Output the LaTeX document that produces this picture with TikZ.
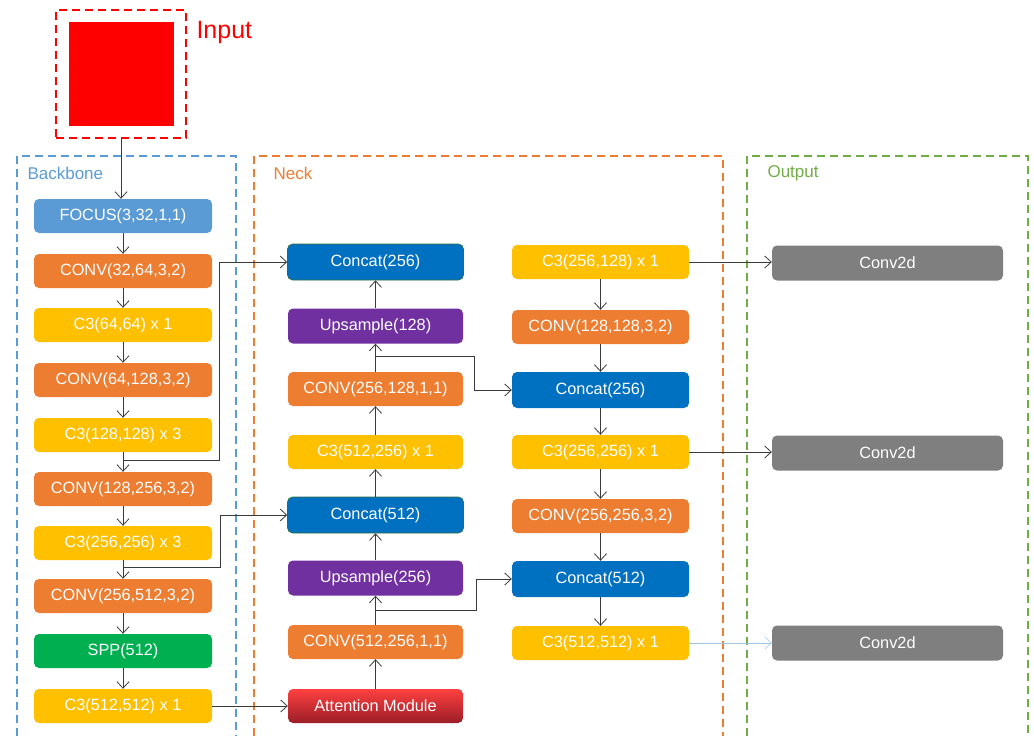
\documentclass[tikz,border=0pt]{standalone}
\usepackage{fontspec}
\setmainfont{Liberation Sans}
\usetikzlibrary{arrows.meta}
\definecolor{cblue}{HTML}{5B9BD5}
\definecolor{corange}{HTML}{ED7D31}
\definecolor{cyellow}{HTML}{FFC000}
\definecolor{cgreen}{HTML}{00B050}
\definecolor{cconcat}{HTML}{0070C0}
\definecolor{cpurple}{HTML}{7030A0}
\definecolor{cgray}{HTML}{7F7F7F}
\definecolor{cout}{HTML}{70AD47}
\definecolor{cline}{HTML}{3A3A3A}
\definecolor{clight}{HTML}{9DC3E6}
\begin{document}
\begin{tikzpicture}[x=1pt,y=-1pt,
  blk/.style={rounded corners=5pt, minimum width=#1, minimum height=34pt,
    inner sep=0pt, text=white, font=\fontsize{16.3}{19}\selectfont},
  blk/.default=178pt,
  focusbox/.style={blk, fill=cblue},
  convbox/.style={blk=#1, fill=corange},
  convbox/.default=178pt,
  c3box/.style={blk=#1, fill=cyellow},
  c3box/.default=178pt,
  sppbox/.style={blk, fill=cgreen},
  catbox/.style={blk=#1, fill=cconcat, minimum height=36pt},
  catbox/.default=176pt,
  upbox/.style={blk=175pt, fill=cpurple, minimum height=35pt},
  attbox/.style={blk=175pt, top color=red!75!white, bottom color={rgb,255:red,155;green,30;blue,40}},
  outbox/.style={blk=231pt, fill=cgray, minimum height=35pt},
  frame/.style={dash pattern=on 8pt off 5pt, line width=1.1pt},
  grouplabel/.style={anchor=west, font=\fontsize{17}{20}\selectfont},
  arr/.style={draw=cline, line width=0.8pt, -{Straight Barb[length=6.5pt,width=12pt]}}
]
\useasboundingbox (0,0) rectangle (1034,736);

% input block
\node[draw=red, frame, minimum width=130pt, minimum height=128pt, inner sep=0pt] (inbox) at (121,74) {};
\node[fill=red, minimum width=105pt, minimum height=104pt, inner sep=0pt] (img) at (121.5,74) {};
\node[anchor=west, text=red, font=\fontsize{25}{28}\selectfont] (inlabel) at (193,32) {Input};

% group frames
\draw[cblue, frame] (17,736) -- (17,156) -- (236,156) -- (236,736);
\draw[corange, frame] (254,736) -- (254,156) -- (723,156) -- (723,736);
\draw[cout, frame] (747,736) -- (747,156) -- (1028,156) -- (1028,736);
\node[grouplabel, text=cblue] (lbb) at (24,173) {Backbone};
\node[grouplabel, text=corange] (lneck) at (270,173) {Neck};
\node[grouplabel, text=cout] (lout) at (764,173) {Output};

% backbone
\node[focusbox] (focus) at (123,216) {FOCUS(3,32,1,1)};
\node[convbox] (bconv1) at (123,271) {CONV(32,64,3,2)};
\node[c3box] (bc3a) at (123,325) {C3(64,64) x 1};
\node[convbox] (bconv2) at (123,380) {CONV(64,128,3,2)};
\node[c3box] (bc3b) at (123,435) {C3(128,128) x 3};
\node[convbox] (bconv3) at (123,489) {CONV(128,256,3,2)};
\node[c3box] (bc3c) at (123,543) {C3(256,256) x 3};
\node[convbox] (bconv4) at (123,596) {CONV(256,512,3,2)};
\node[sppbox] (spp) at (123,651) {SPP(512)};
\node[c3box] (bc3d) at (123,706) {C3(512,512) x 1};

% neck, upward path
\node[catbox, draw={rgb,255:red,50;green,110;blue,60}, line width=0.6pt] (ncat1) at (375.5,262) {Concat(256)};
\node[upbox] (nup1) at (375.5,326) {Upsample(128)};
\node[convbox=175pt] (nconv1) at (375.5,389) {CONV(256,128,1,1)};
\node[c3box=175pt] (nc3a) at (375.5,452) {C3(512,256) x 1};
\node[catbox, draw={rgb,255:red,50;green,110;blue,60}, line width=0.6pt] (ncat2) at (375.5,515) {Concat(512)};
\node[upbox] (nup2) at (375.5,578) {Upsample(256)};
\node[convbox=175pt] (nconv2) at (375.5,642) {CONV(512,256,1,1)};
\node[attbox] (att) at (375.5,706) {Attention Module};

% neck, downward path
\node[c3box=177pt] (rc3a) at (600.5,262) {C3(256,128) x 1};
\node[convbox=177pt] (rconv1) at (600.5,327) {CONV(128,128,3,2)};
\node[catbox=177pt] (rcat1) at (600.5,390) {Concat(256)};
\node[c3box=177pt] (rc3b) at (600.5,452) {C3(256,256) x 1};
\node[convbox=177pt] (rconv2) at (600.5,516) {CONV(256,256,3,2)};
\node[catbox=177pt] (rcat2) at (600.5,579) {Concat(512)};
\node[c3box=177pt] (rc3c) at (600.5,643) {C3(512,512) x 1};

% output heads
\node[outbox] (out1) at (887.5,263) {Conv2d};
\node[outbox] (out2) at (887.5,453) {Conv2d};
\node[outbox] (out3) at (887.5,643) {Conv2d};

% backbone flow
\draw[arr] (inbox.south) -- (inbox.south |- focus.north);
\draw[arr] (focus) -- (bconv1);
\draw[arr] (bconv1) -- (bc3a);
\draw[arr] (bc3a) -- (bconv2);
\draw[arr] (bconv2) -- (bc3b);
\draw[arr] (bc3b) -- (bconv3);
\draw[arr] (bconv3) -- (bc3c);
\draw[arr] (bc3c) -- (bconv4);
\draw[arr] (bconv4) -- (spp);
\draw[arr] (spp) -- (bc3d);

% skip connections into the neck
\draw[arr] ([yshift=-8pt]bc3b.south) -- ++(96,0) |- (ncat1.west);
\draw[arr] ([yshift=-7pt]bc3c.south) -- ++(97,0) |- (ncat2.west);
\draw[arr] (bc3d.east) -- (att.west);

% neck upward flow
\draw[arr] (att) -- (nconv2);
\draw[arr] (nconv2) -- (nup2);
\draw[arr] (nup2) -- (ncat2);
\draw[arr] (ncat2) -- (nc3a);
\draw[arr] (nc3a) -- (nconv1);
\draw[arr] (nconv1) -- (nup1);
\draw[arr] (nup1) -- (ncat1);

% lateral links to the downward path
\draw[arr] ([yshift=15pt]nconv1.north) -- ++(99,0) |- (rcat1.west);
\draw[arr] ([yshift=14pt]nconv2.north) -- ++(101,0) |- (rcat2.west);

% neck downward flow
\draw[arr] (rc3a) -- (rconv1);
\draw[arr] (rconv1) -- (rcat1);
\draw[arr] (rcat1) -- (rc3b);
\draw[arr] (rc3b) -- (rconv2);
\draw[arr] (rconv2) -- (rcat2);
\draw[arr] (rcat2) -- (rc3c);

% heads
\draw[arr] (rc3a.east) -- (rc3a.east -| out1.west);
\draw[arr] (rc3b.east) -- (rc3b.east -| out2.west);
\draw[arr, draw=clight, line width=0.5pt] (rc3c.east) -- (out3.west);
\end{tikzpicture}
\end{document}
